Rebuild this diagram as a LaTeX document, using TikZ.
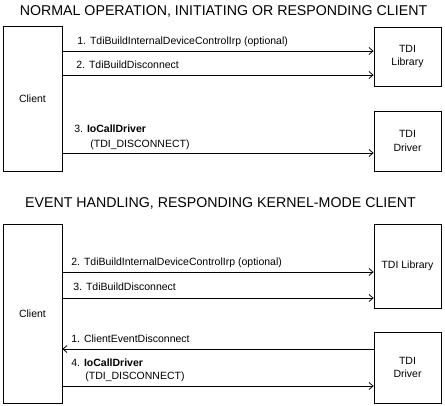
\documentclass[tikz,border=0pt]{standalone}
\usepackage{fontspec}
\setmainfont{Liberation Sans}
\usetikzlibrary{arrows.meta}

\begin{document}
\begin{tikzpicture}[x=1pt, y=-1pt, line width=0.8pt,
    >={Straight Barb[length=4pt,width=7pt]},
    box/.style={draw, inner sep=0pt, align=center, font=\fontsize{10.5}{13.5}\selectfont},
    msg/.style={anchor=west, inner sep=0pt, font=\fontsize{10.5}{13}\selectfont},
    heading/.style={inner sep=0pt, font=\fontsize{14.2}{16}\selectfont}]

    % Page size
    \def\w{445}
    \def\h{406}
    \useasboundingbox (0,0) rectangle (\w,\h);

    % Column positions
    \def\xc{32.5}   % client, center
    \def\xr{407.5}  % right boxes, center

    % Normal operation
    \node[heading] (title1) at (223.5,11) {NORMAL OPERATION, INITIATING OR RESPONDING CLIENT};
    \node[box, minimum width=59pt, minimum height=145pt] (client1) at (\xc,98.5) {Client};
    \node[box, minimum width=67pt, minimum height=59pt] (lib1) at (\xr,56.5) {TDI\\Library};
    \node[box, minimum width=67pt, minimum height=60pt] (drv1) at (\xr,141) {TDI\\Driver};

    \coordinate (a1) at (0,51);
    \coordinate (a2) at (0,75);
    \coordinate (a3) at (0,153);
    \draw[->] (client1.east |- a1) -- (lib1.west |- a1);
    \draw[->] (client1.east |- a2) -- (lib1.west |- a2);
    \draw[->] (client1.east |- a3) -- (drv1.west |- a3);

    \node[msg] (l1) at (77,42) {1. TdiBuildInternalDeviceControlIrp (optional)};
    \node[msg] (l2) at (76,65) {2. TdiBuildDisconnect};
    \node[msg] (l3) at (74,129) {3. \textbf{IoCallDriver}};
    \node[msg] (l3b) at (90,145) {(TDI\_DISCONNECT)};

    % Event handling
    \node[heading] (title2) at (220.5,203) {EVENT HANDLING, RESPONDING KERNEL-MODE CLIENT};
    \node[box, minimum width=59pt, minimum height=179pt] (client2) at (\xc,313.5) {Client};
    \node[box, minimum width=67pt, minimum height=84pt] (lib2) at (\xr,266) {TDI Library};
    \node[box, minimum width=67pt, minimum height=71pt] (drv2) at (\xr,367.5) {TDI\\Driver};

    \coordinate (b2) at (0,272);
    \coordinate (b3) at (0,298);
    \coordinate (b1) at (0,349);
    \coordinate (b4) at (0,386);
    \draw[->] (client2.east |- b2) -- (lib2.west |- b2);
    \draw[->] (client2.east |- b3) -- (lib2.west |- b3);
    \draw[->] (drv2.west |- b1) -- (client2.east |- b1);
    \draw[->] (client2.east |- b4) -- (drv2.west |- b4);

    \node[msg] (e2) at (71,263) {2. TdiBuildInternalDeviceControlIrp (optional)};
    \node[msg] (e3) at (73,287) {3. TdiBuildDisconnect};
    \node[msg] (e1) at (71,339) {1. ClientEventDisconnect};
    \node[msg] (e4) at (71,363) {4. \textbf{IoCallDriver}};
    \node[msg] (e4b) at (85,377) {(TDI\_DISCONNECT)};

\end{tikzpicture}
\end{document}
